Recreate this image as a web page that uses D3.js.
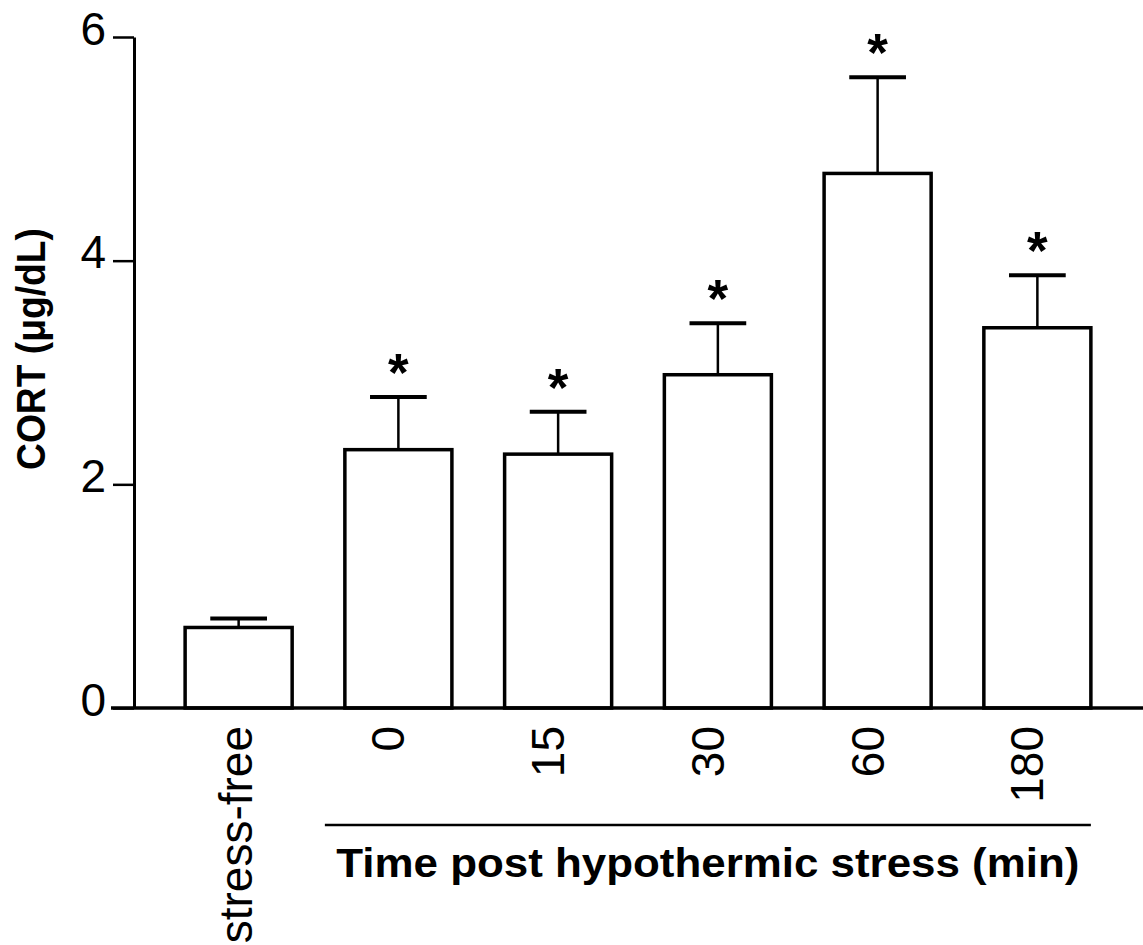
<!DOCTYPE html>
<html>
<head>
<meta charset="utf-8">
<script src="https://cdn.jsdelivr.net/npm/d3@7/dist/d3.min.js"></script>
<style>
  html, body { margin: 0; padding: 0; background: #fff; }
  svg { display: block; }
  text { font-family: "Liberation Sans", Arial, Helvetica, sans-serif; fill: #000; }
</style>
</head>
<body>
<svg id="chart" width="1143" height="945"></svg>
<script>
// ---- data ----
const categories = ["stress-free", "0", "15", "30", "60", "180"];
const means = [0.72, 2.31, 2.27, 2.98, 4.78, 3.40];
const sems = [0.08, 0.47, 0.38, 0.46, 0.86, 0.47];
const significant = [false, true, true, true, true, true];
const yTicks = [0, 2, 4, 6];
const groupedCategories = ["0", "15", "30", "60", "180"];
const yLabel = "CORT (\u03BCg/dL)";
const xTitle = "Time post hypothermic stress (min)";

// ---- layout ----
const svg = d3.select("#chart");
const W = 1143, H = 945;

const x = d3.scaleBand()
  .domain(categories)
  .range([134, 1142])
  .paddingInner(0.33)
  .paddingOuter(0.32);

const y = d3.scaleLinear()
  .domain([0, 6])
  .range([708, 37]);

const data = categories.map((c, i) => ({ c, m: means[i], e: sems[i], s: significant[i] }));

// ---- bars ----
svg.append("g").selectAll("rect")
  .data(data)
  .join("rect")
  .attr("x", d => x(d.c))
  .attr("y", d => y(d.m))
  .attr("width", x.bandwidth())
  .attr("height", d => y(0) - y(d.m))
  .attr("fill", "#fff")
  .attr("stroke", "#000")
  .attr("stroke-width", 3.5);

// ---- error bars ----
const capW = x.bandwidth() * 0.53;
const eb = svg.append("g");
eb.selectAll("line.stem")
  .data(data)
  .join("line")
  .attr("class", "stem")
  .attr("x1", d => x(d.c) + x.bandwidth() / 2)
  .attr("x2", d => x(d.c) + x.bandwidth() / 2)
  .attr("y1", d => y(d.m))
  .attr("y2", d => y(d.m + d.e))
  .attr("stroke", "#000")
  .attr("stroke-width", 2.5);
eb.selectAll("line.cap")
  .data(data)
  .join("line")
  .attr("class", "cap")
  .attr("x1", d => x(d.c) + x.bandwidth() / 2 - capW / 2)
  .attr("x2", d => x(d.c) + x.bandwidth() / 2 + capW / 2)
  .attr("y1", d => y(d.m + d.e))
  .attr("y2", d => y(d.m + d.e))
  .attr("stroke", "#000")
  .attr("stroke-width", 4);

// ---- significance stars ----
svg.append("g").selectAll("text")
  .data(data.filter(d => d.s))
  .join("text")
  .attr("x", d => x(d.c) + x.bandwidth() / 2)
  .attr("y", d => y(d.m + d.e) - 6)
  .attr("text-anchor", "middle")
  .attr("font-size", 53)
  .attr("font-weight", "bold")
  .text("*");

// ---- y axis ----
const yAxis = svg.append("g")
  .attr("transform", "translate(134,0)")
  .call(d3.axisLeft(y).tickValues(yTicks).tickSize(21).tickSizeOuter(0).tickPadding(8).tickFormat(d3.format("d")));
yAxis.select(".domain").attr("stroke", "#000").attr("stroke-width", 3);
yAxis.selectAll(".tick line").attr("stroke", "#000").attr("stroke-width", 2.5);
yAxis.selectAll(".tick text")
  .attr("font-size", 46)
  .attr("font-family", "'Liberation Sans', Arial, sans-serif")
  .attr("fill", "#000")
  .attr("dy", null)
  .attr("y", 7)
  .attr("x", -28);

// ---- x baseline ----
svg.append("line")
  .attr("x1", 111).attr("x2", W)
  .attr("y1", y(0)).attr("y2", y(0))
  .attr("stroke", "#000").attr("stroke-width", 3.5);

// ---- x axis labels (rotated) ----
const xAxis = svg.append("g")
  .attr("transform", `translate(0,${y(0)})`)
  .call(d3.axisBottom(x).tickSize(0).tickPadding(0));
xAxis.select(".domain").remove();
xAxis.selectAll(".tick text")
  .attr("font-size", 46)
  .attr("font-family", "'Liberation Sans', Arial, sans-serif")
  .attr("fill", "#000")
  .attr("text-anchor", "end")
  .attr("dy", null)
  .attr("y", 0)
  .attr("transform", d => `translate(${isNaN(+d) ? 13 : 6},18) rotate(-90)`);

// ---- group bracket & title ----
const gx0 = x(groupedCategories[0]) - 20;
const gx1 = x(groupedCategories[groupedCategories.length - 1]) + x.bandwidth();
svg.append("line")
  .attr("x1", gx0).attr("x2", gx1)
  .attr("y1", 825).attr("y2", 825)
  .attr("stroke", "#000").attr("stroke-width", 2.5);
svg.append("text")
  .attr("x", (gx0 + gx1) / 2)
  .attr("y", 877)
  .attr("text-anchor", "middle")
  .attr("font-size", 40)
  .attr("font-weight", "bold")
  .attr("textLength", 743)
  .attr("lengthAdjust", "spacingAndGlyphs")
  .text(xTitle);

// ---- y label ----
svg.append("text")
  .attr("transform", "translate(45,349) rotate(-90)")
  .attr("text-anchor", "middle")
  .attr("font-size", 40)
  .attr("font-weight", "bold")
  .attr("textLength", 242)
  .attr("lengthAdjust", "spacingAndGlyphs")
  .text(yLabel);
</script>
</body>
</html>
